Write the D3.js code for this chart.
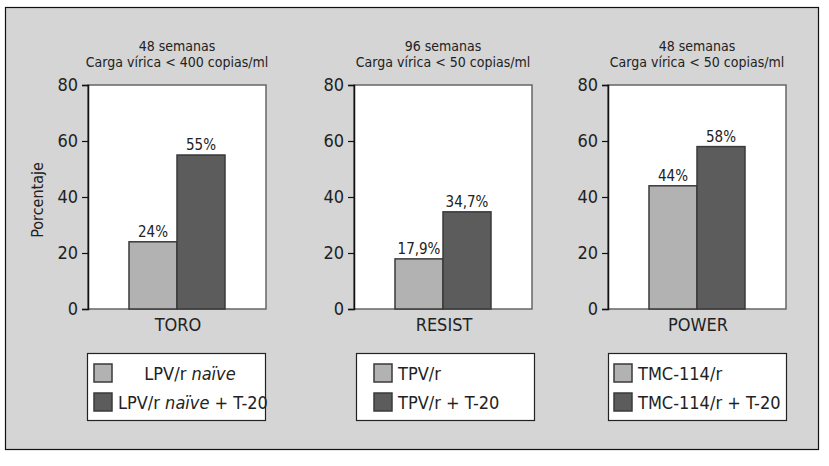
<!DOCTYPE html>
<html>
<head>
<meta charset="utf-8">
<script src="https://cdn.jsdelivr.net/npm/d3@7"></script>
<style>
  body { margin: 0; background: #fff; }
  svg { display: block; }
</style>
</head>
<body>
<script>
// data
var studies = ["TORO", "RESIST", "POWER"];
var titleWeeks = ["48 semanas", "96 semanas", "48 semanas"];
var titleLoad = ["Carga vírica < 400 copias/ml", "Carga vírica < 50 copias/ml", "Carga vírica < 50 copias/ml"];
var controlValues = [24, 17.9, 44];
var t20Values = [55, 34.7, 58];
var controlLabels = ["24%", "17,9%", "44%"];
var t20Labels = ["55%", "34,7%", "58%"];
var legendControl = [["LPV/r ", "naïve", ""], ["TPV/r", "", ""], ["TMC-114/r", "", ""]];
var legendT20 = [["LPV/r ", "naïve", " + T-20"], ["TPV/r + T-20", "", ""], ["TMC-114/r + T-20", "", ""]];
var yTicks = [0, 20, 40, 60, 80];

const W = 829, H = 466;
const font = "'Liberation Sans Narrow', 'DejaVu Sans Condensed', 'Liberation Sans', sans-serif";
const light_col = "#b2b2b2",
      dark_col = "#5c5c5c",
      edge_col = "#3a3a3a";

// panel lefts (plot area) and legend offsets
var panelX = [88, 354, 608];
var legendX = [87, 356, 608];
var swatchPad = [7, 18, 6];
var textCenter = [true, false, false];

var plotW = 178,
    plotTop = 85,
    plotBottom = 309;

var svg = d3.select("body")
    .append("svg")
    .attr("width", W)
    .attr("height", H);

svg.append("rect")
    .attr("x", 5.5).attr("y", 7.5)
    .attr("width", 813).attr("height", 442)
    .attr("fill", "#d5d5d5")
    .attr("stroke", "#111")
    .attr("stroke-width", 1.2);

var y = d3.scaleLinear().domain([0, 80]).range([plotBottom, plotTop]);

svg.append("text")
    .attr("transform", "translate(43,200) rotate(-90)")
    .attr("text-anchor", "middle")
    .attr("font-family", font)
    .attr("font-size", "16px")
    .attr("fill", "#222")
    .text("Porcentaje");

for (var i = 0; i < studies.length; ++i) {
    var g = svg.append("g")
        .attr("transform", "translate(" + panelX[i] + ",0)");

    var x = d3.scaleBand()
        .domain(["c", "t"])
        .range([41, 137])
        .padding(0);

    // white plot area
    g.append("rect")
        .attr("x", 0).attr("y", plotTop)
        .attr("width", plotW).attr("height", plotBottom - plotTop)
        .attr("fill", "#fff")
        .attr("stroke", "#666")
        .attr("stroke-width", 1.5);

    // titles
    g.append("text")
        .attr("x", plotW / 2).attr("y", 51)
        .attr("text-anchor", "middle")
        .attr("font-family", font).attr("font-size", "14px")
        .attr("fill", "#222")
        .text(titleWeeks[i]);
    g.append("text")
        .attr("x", plotW / 2).attr("y", 67)
        .attr("text-anchor", "middle")
        .attr("font-family", font).attr("font-size", "14px")
        .attr("fill", "#222")
        .text(titleLoad[i]);

    var vals = [{k: "c", v: controlValues[i], lab: controlLabels[i], col: light_col},
                {k: "t", v: t20Values[i], lab: t20Labels[i], col: dark_col}];

    g.selectAll(".bar")
        .data(vals)
        .enter().append("rect")
        .attr("x", d => x(d.k))
        .attr("y", d => y(d.v))
        .attr("width", x.bandwidth())
        .attr("height", d => y(0) - y(d.v))
        .attr("fill", d => d.col)
        .attr("stroke", edge_col)
        .attr("stroke-width", 1.5);

    g.selectAll(".lab")
        .data(vals)
        .enter().append("text")
        .attr("x", d => x(d.k) + x.bandwidth() / 2)
        .attr("y", d => y(d.v) - 5)
        .attr("text-anchor", "middle")
        .attr("font-family", font).attr("font-size", "15px")
        .attr("fill", "#222")
        .text(d => d.lab);

    // y axis
    var ax = g.append("g")
        .call(d3.axisLeft(y).tickValues(yTicks).tickSize(6).tickPadding(4));
    ax.select(".domain").attr("stroke", "#111").attr("stroke-width", 1.5);
    ax.selectAll(".tick line").attr("stroke", "#111").attr("stroke-width", 1.2);
    ax.selectAll(".tick text")
        .attr("font-family", font).attr("font-size", "18px")
        .attr("fill", "#222");

    // category label
    g.append("text")
        .attr("x", plotW / 2 + 1).attr("y", 331)
        .attr("text-anchor", "middle")
        .attr("font-family", font).attr("font-size", "18px")
        .attr("fill", "#222")
        .text(studies[i]);

    // legend
    var lg = svg.append("g")
        .attr("transform", "translate(" + legendX[i] + ",353)");
    lg.append("rect")
        .attr("x", 0.5).attr("y", 0.5)
        .attr("width", 178).attr("height", 67)
        .attr("fill", "#fff")
        .attr("stroke", "#222")
        .attr("stroke-width", 1.2);

    var items = [{col: light_col, parts: legendControl[i]}, {col: dark_col, parts: legendT20[i]}];
    items.forEach(function (it, j) {
        var sy = 11 + j * 29;
        lg.append("rect")
            .attr("x", swatchPad[i]).attr("y", sy)
            .attr("width", 18).attr("height", 18)
            .attr("fill", it.col)
            .attr("stroke", edge_col)
            .attr("stroke-width", 1.5);
        var t = lg.append("text")
            .attr("y", sy + 16)
            .attr("font-family", font).attr("font-size", "18px")
            .attr("fill", "#222");
        if (textCenter[i] && j == 0) {
            t.attr("x", 103).attr("text-anchor", "middle");
        } else {
            t.attr("x", swatchPad[i] + 24).attr("text-anchor", "start");
        }
        t.append("tspan").text(it.parts[0]);
        if (it.parts[1]) t.append("tspan").attr("font-style", "italic").text(it.parts[1]);
        if (it.parts[2]) t.append("tspan").text(it.parts[2]);
    });
}
</script>
</body>
</html>
